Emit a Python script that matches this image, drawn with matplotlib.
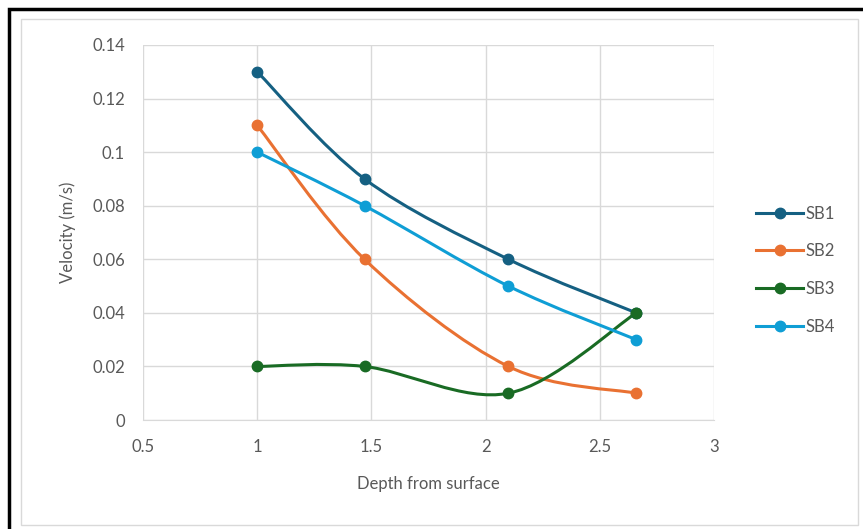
import numpy as np
import matplotlib.pyplot as plt
from matplotlib.path import Path
from matplotlib.patches import PathPatch, Rectangle
from matplotlib.lines import Line2D

# Data
depth = [1.0, 1.47, 2.1, 2.66]
series_names = ['SB1', 'SB2', 'SB3', 'SB4']
sb1 = [0.13, 0.09, 0.06, 0.04]
sb2 = [0.11, 0.06, 0.02, 0.01]
sb3 = [0.02, 0.02, 0.01, 0.04]
sb4 = [0.10, 0.08, 0.05, 0.03]
colors = ['#156082', '#E97132', '#196B24', '#0F9ED5']

plt.rcParams['font.family'] = ['Lato', 'DejaVu Sans']
text_color = '#595959'
grid_color = '#D9D9D9'


# Excel-style smoothed line: cubic Bezier segments through every point
def smooth_path(x, y):
    pts = np.column_stack([x, y])
    n = len(pts)
    verts = [pts[0]]
    codes = [Path.MOVETO]
    for i in range(n - 1):
        p0 = pts[i - 1] if i > 0 else pts[i]
        p1 = pts[i]
        p2 = pts[i + 1]
        p3 = pts[i + 2] if i + 2 < n else pts[i + 1]
        c1 = p1 + (p2 - p0) / 6
        c2 = p2 - (p3 - p1) / 6
        verts += [c1, c2, p2]
        codes += [Path.CURVE4] * 3
    return Path(verts, codes)


fig = plt.figure(figsize=(8.63, 5.29), dpi=100)
ax = fig.add_axes([0.1657, 0.206, 0.6616, 0.709])

for name, vals, c in zip(series_names, [sb1, sb2, sb3, sb4], colors):
    ax.add_patch(PathPatch(smooth_path(depth, vals), facecolor='none',
                           edgecolor=c, lw=2.2, zorder=3))
    ax.plot(depth, vals, 'o', color=c, ms=7.5, zorder=4)

ax.set_xlim(0.5, 3)
ax.set_ylim(0, 0.14)
ax.set_xticks([0.5, 1, 1.5, 2, 2.5, 3])
ax.set_xticklabels(['0.5', '1', '1.5', '2', '2.5', '3'])
ax.set_yticks([0, 0.02, 0.04, 0.06, 0.08, 0.1, 0.12, 0.14])
ax.set_yticklabels(['0', '0.02', '0.04', '0.06', '0.08', '0.1', '0.12', '0.14'])
ax.grid(True, color=grid_color, lw=1)
ax.set_axisbelow(True)
for s in ['top', 'right', 'left']:
    ax.spines[s].set_visible(False)
ax.spines['bottom'].set_color(grid_color)
ax.tick_params(length=0, colors=text_color, labelsize=12, pad=14)
ax.tick_params(axis='y', pad=13)
ax.set_xlabel('Depth from surface', color=text_color, fontsize=12, labelpad=15)
ax.set_ylabel('Velocity (m/s)', color=text_color, fontsize=12, labelpad=12)

handles = [Line2D([0], [0], color=c, lw=2.2, marker='o', ms=7.5) for c in colors]
leg = ax.legend(handles, series_names, loc='center left', bbox_to_anchor=(1.048, 0.40),
                frameon=False, fontsize=12, handlelength=2.8, handletextpad=0.15,
                labelspacing=1.3)
for t in leg.get_texts():
    t.set_color(text_color)

# chart area border and outer black frame
fig.patches.append(Rectangle((21 / 863, 1 - 525 / 529), 837 / 863, 506 / 529,
                             transform=fig.transFigure, fill=False,
                             edgecolor=grid_color, lw=1))
fig.patches.append(Rectangle((9 / 863, -0.05), 1.1, 1 - 9 / 529 + 0.05,
                             transform=fig.transFigure, fill=False,
                             edgecolor='black', lw=2.5))

fig.savefig('out.png', dpi=100)
